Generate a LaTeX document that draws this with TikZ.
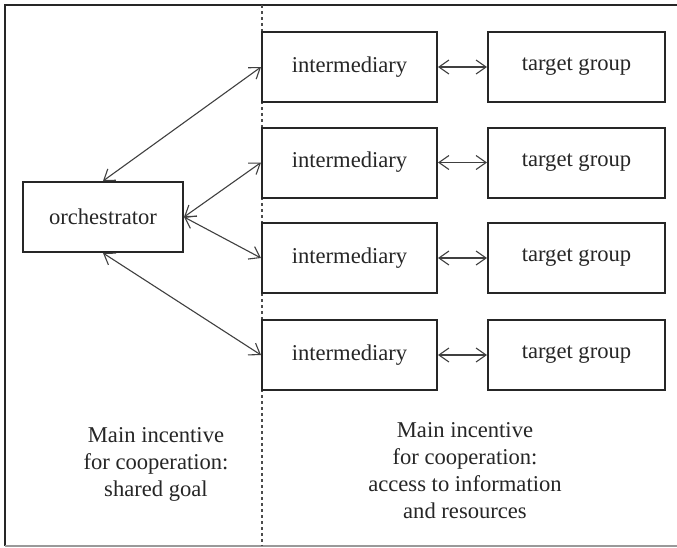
\documentclass[tikz,border=0pt]{standalone}
\usepackage{fontspec}
\setmainfont{Liberation Serif}
\newfontfamily\diagserif{Liberation Serif}
\usetikzlibrary{arrows.meta}
\begin{document}
\begin{tikzpicture}[x=0.5pt,y=-0.5pt,
  every node/.style={font=\diagserif\fontsize{11.3}{13.5}\selectfont, text=black!85},
  box/.style={draw=black!85, line width=1pt, fill=white, inner sep=0pt, minimum height=35pt},
  midbox/.style={box, minimum width=87.5pt},
  tgtbox/.style={box, minimum width=88.5pt},
  orchbox/.style={box, minimum width=80pt},
  link/.style={draw=black!75, line width=0.55pt, {Straight Barb[length=5pt,width=7pt]}-{Straight Barb[length=5pt,width=7pt]}},
  caption/.style={align=center}
]
\useasboundingbox (0,0) rectangle (677,548);
\fill[white] (0,0) rectangle (677,548);
% frame
\draw[black!85, line width=1.3pt] (677,5) -- (5,5) -- (5,546);
\draw[black!40, line width=0.8pt] (5,546) -- (677,546);
% divider
\coordinate (dtop) at (262,5);
\coordinate (dbot) at (262,546);
\draw[black!70, line width=0.6pt, dash pattern=on 1.5pt off 1.5pt] (dtop) -- (dbot);
% nodes
\node[orchbox] (orch) at (103,217) {orchestrator};
\node[midbox] (i1) at (349.5,67) {intermediary};
\node[midbox] (i2) at (349.5,162.5) {intermediary};
\node[midbox] (i3) at (349.5,258) {intermediary};
\node[midbox] (i4) at (349.5,355) {intermediary};
\node[tgtbox] (t1) at (576.5,67) {target group};
\node[tgtbox] (t2) at (576.5,162.5) {target group};
\node[tgtbox] (t3) at (576.5,258) {target group};
\node[tgtbox] (t4) at (576.5,355) {target group};
% connectors
\draw[link] (orch.north) -- (i1.west);
\draw[link] (orch.east) -- (i2.west);
\draw[link] (orch.east) -- (i3.west);
\draw[link] (orch.south) -- (i4.west);
\draw[link] (i1.east) -- (t1.west);
\draw[link] (i2.east) -- (t2.west);
\draw[link] (i3.east) -- (t3.west);
\draw[link] (i4.east) -- (t4.west);
% captions
\node[caption] (capl) at (156,464) {Main incentive\\for cooperation:\\shared goal};
\node[caption] (capr) at (465,471) {Main incentive\\for cooperation:\\access to information\\and resources};
\end{tikzpicture}
\end{document}
